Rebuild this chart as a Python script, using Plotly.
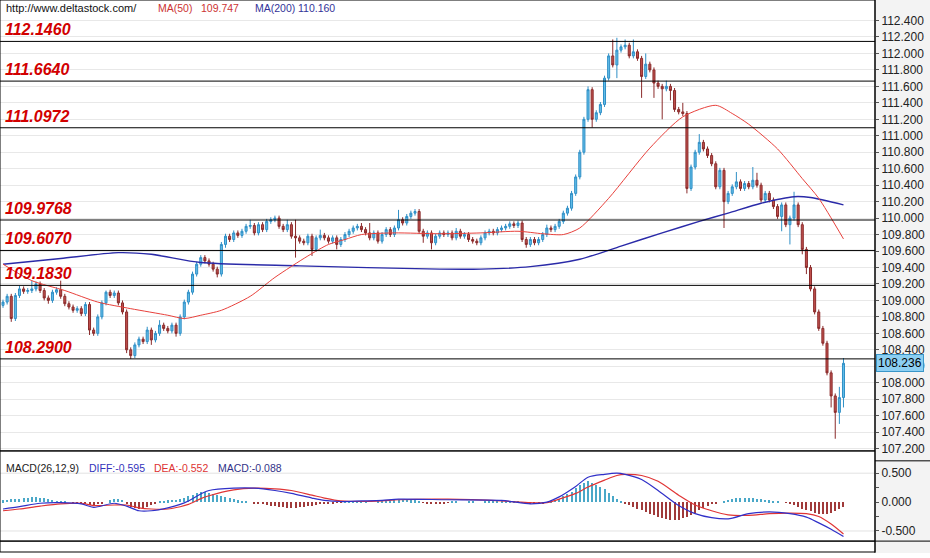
import plotly.graph_objects as go

# ---------------- data ----------------
opens = [108.94, 108.98, 109.05, 108.78, 109.06, 109.14, 109.11, 109.12, 109.14, 109.20,
         109.12, 109.03, 109.00, 109.10, 109.13, 109.05, 108.96, 108.92, 108.88, 108.90,
         108.84, 108.95, 108.64, 108.60, 108.80, 108.97, 109.10, 109.06, 109.09, 108.97,
         108.86, 108.40, 108.33, 108.46, 108.53, 108.50, 108.64, 108.52, 108.60, 108.70,
         108.66, 108.63, 108.70, 108.60, 108.80, 108.98, 109.10, 109.32, 109.44, 109.52,
         109.48, 109.44, 109.38, 109.32, 109.68, 109.78, 109.74, 109.82, 109.79, 109.84,
         109.90, 109.91, 109.82, 109.92, 109.86, 109.96, 109.98, 110.00, 109.90, 109.86,
         109.92, 109.78, 109.76, 109.72, 109.70, 109.78, 109.62, 109.76, 109.79, 109.76,
         109.72, 109.76, 109.68, 109.74, 109.80, 109.84, 109.88, 109.90, 109.86, 109.82,
         109.76, 109.82, 109.72, 109.80, 109.86, 109.80, 109.88, 109.98, 109.94, 110.02,
         110.06, 110.08, 109.84, 109.78, 109.82, 109.70, 109.78, 109.82, 109.80, 109.82,
         109.76, 109.84, 109.78, 109.80, 109.74, 109.72, 109.70, 109.76, 109.82, 109.84,
         109.82, 109.86, 109.88, 109.90, 109.93, 109.91, 109.94, 109.74, 109.68, 109.74,
         109.70, 109.74, 109.80, 109.88, 109.86, 109.90, 109.96, 110.06, 110.12, 110.30,
         110.50, 110.80, 111.20, 111.56, 111.20, 111.28, 111.38, 111.70, 111.97, 111.86,
         112.04, 112.08, 112.10, 111.97, 112.02, 111.94, 111.72, 111.87, 111.80, 111.64,
         111.60, 111.57, 111.60, 111.55, 111.32, 111.29, 111.27, 110.36, 110.62, 110.80,
         110.92, 110.84, 110.76, 110.66, 110.38, 110.58, 110.20, 110.30, 110.38, 110.44,
         110.36, 110.42, 110.38, 110.46, 110.40, 110.22, 110.30, 110.22, 110.14, 110.02,
         110.16, 109.92, 110.00, 110.16, 109.92, 109.62, 109.40, 109.14, 108.86, 108.66,
         108.48, 108.12, 107.84, 107.64, 107.82]

highs = [109.01, 109.08, 109.08, 109.09, 109.18, 109.17, 109.15, 109.24, 109.23, 109.23,
         109.15, 109.06, 109.13, 109.16, 109.24, 109.08, 108.99, 108.95, 108.93, 108.93,
         108.98, 108.98, 108.67, 108.83, 109.00, 109.12, 109.13, 109.12, 109.12, 109.00,
         108.89, 108.43, 108.49, 108.56, 108.56, 108.68, 108.67, 108.63, 108.76, 108.73,
         108.69, 108.73, 108.73, 108.83, 109.01, 109.13, 109.35, 109.47, 109.55, 109.55,
         109.51, 109.47, 109.41, 109.71, 109.81, 109.81, 109.85, 109.85, 109.87, 109.93,
         109.98, 109.94, 109.95, 109.95, 109.99, 110.01, 110.03, 110.03, 109.93, 109.98,
         109.95, 109.98, 109.79, 109.75, 109.81, 109.81, 109.79, 109.86, 109.82, 109.79,
         109.79, 109.79, 109.77, 109.83, 109.87, 109.91, 109.93, 109.94, 109.89, 109.94,
         109.85, 109.85, 109.83, 109.89, 109.89, 109.91, 110.10, 110.01, 110.05, 110.09,
         110.11, 110.11, 109.87, 109.85, 109.85, 109.81, 109.85, 109.85, 109.85, 109.85,
         109.88, 109.87, 109.83, 109.83, 109.77, 109.75, 109.79, 109.85, 109.87, 109.87,
         109.89, 109.91, 109.93, 109.96, 109.96, 109.97, 109.97, 109.77, 109.77, 109.77,
         109.77, 109.83, 109.92, 109.91, 109.93, 109.99, 110.09, 110.15, 110.33, 110.53,
         110.83, 111.23, 111.60, 111.59, 111.31, 111.41, 111.73, 112.00, 112.17, 112.19,
         112.11, 112.17, 112.13, 112.17, 112.05, 111.97, 112.00, 111.90, 111.83, 111.67,
         111.63, 111.67, 111.63, 111.58, 111.35, 111.40, 111.30, 110.65, 110.83, 111.02,
         110.95, 110.87, 110.79, 110.69, 110.61, 110.61, 110.33, 110.41, 110.56, 110.47,
         110.45, 110.45, 110.62, 110.55, 110.43, 110.33, 110.33, 110.25, 110.17, 110.19,
         110.19, 110.03, 110.32, 110.19, 109.95, 109.65, 109.43, 109.17, 108.89, 108.69,
         108.51, 108.15, 107.87, 107.95, 108.30]

lows = [108.91, 108.95, 108.74, 108.75, 109.03, 109.08, 109.08, 109.09, 109.11, 109.09,
        109.00, 108.96, 108.97, 109.07, 109.02, 108.93, 108.89, 108.85, 108.85, 108.81,
        108.81, 108.58, 108.57, 108.57, 108.77, 108.94, 109.03, 109.03, 108.94, 108.83,
        108.36, 108.29, 108.30, 108.43, 108.47, 108.47, 108.46, 108.49, 108.57, 108.63,
        108.60, 108.60, 108.56, 108.57, 108.77, 108.95, 109.07, 109.29, 109.41, 109.45,
        109.41, 109.35, 109.28, 109.29, 109.64, 109.71, 109.71, 109.76, 109.76, 109.81,
        109.87, 109.79, 109.79, 109.83, 109.83, 109.93, 109.95, 109.87, 109.83, 109.83,
        109.75, 109.52, 109.69, 109.67, 109.67, 109.54, 109.59, 109.73, 109.73, 109.69,
        109.69, 109.62, 109.65, 109.71, 109.77, 109.81, 109.85, 109.83, 109.79, 109.73,
        109.73, 109.69, 109.69, 109.77, 109.77, 109.77, 109.85, 109.91, 109.91, 109.99,
        110.03, 109.81, 109.70, 109.75, 109.62, 109.67, 109.75, 109.77, 109.77, 109.73,
        109.73, 109.75, 109.75, 109.71, 109.69, 109.67, 109.67, 109.73, 109.79, 109.79,
        109.79, 109.83, 109.85, 109.87, 109.88, 109.88, 109.71, 109.64, 109.65, 109.67,
        109.67, 109.71, 109.77, 109.83, 109.83, 109.87, 109.93, 110.03, 110.09, 110.27,
        110.47, 110.77, 111.17, 111.10, 111.17, 111.25, 111.35, 111.67, 111.83, 111.70,
        112.01, 112.05, 111.94, 111.94, 111.91, 111.46, 111.69, 111.77, 111.46, 111.57,
        111.20, 111.54, 111.43, 111.29, 111.26, 111.24, 110.30, 110.33, 110.59, 110.77,
        110.81, 110.73, 110.63, 110.35, 110.35, 109.88, 110.17, 110.27, 110.35, 110.33,
        110.33, 110.35, 110.35, 110.37, 110.19, 110.19, 110.19, 110.11, 109.99, 109.84,
        109.89, 109.68, 109.97, 109.89, 109.56, 109.32, 109.11, 108.83, 108.63, 108.45,
        108.09, 107.70, 107.32, 107.50, 107.70]

closes = [108.98, 109.05, 108.78, 109.06, 109.14, 109.11, 109.12, 109.14, 109.20, 109.12,
          109.03, 109.00, 109.10, 109.13, 109.05, 108.96, 108.92, 108.88, 108.90, 108.84,
          108.95, 108.64, 108.60, 108.80, 108.97, 109.10, 109.06, 109.09, 108.97, 108.86,
          108.40, 108.33, 108.46, 108.53, 108.50, 108.64, 108.52, 108.60, 108.70, 108.66,
          108.63, 108.70, 108.60, 108.80, 108.98, 109.10, 109.32, 109.44, 109.52, 109.48,
          109.44, 109.38, 109.32, 109.68, 109.78, 109.74, 109.82, 109.79, 109.84, 109.90,
          109.91, 109.82, 109.92, 109.86, 109.96, 109.98, 110.00, 109.90, 109.86, 109.92,
          109.78, 109.76, 109.72, 109.70, 109.78, 109.62, 109.76, 109.79, 109.76, 109.72,
          109.76, 109.68, 109.74, 109.80, 109.84, 109.88, 109.90, 109.86, 109.82, 109.76,
          109.82, 109.72, 109.80, 109.86, 109.80, 109.88, 109.98, 109.94, 110.02, 110.06,
          110.08, 109.84, 109.78, 109.82, 109.70, 109.78, 109.82, 109.80, 109.82, 109.76,
          109.84, 109.78, 109.80, 109.74, 109.72, 109.70, 109.76, 109.82, 109.84, 109.82,
          109.86, 109.88, 109.90, 109.93, 109.91, 109.94, 109.74, 109.68, 109.74, 109.70,
          109.74, 109.80, 109.88, 109.86, 109.90, 109.96, 110.06, 110.12, 110.30, 110.50,
          110.80, 111.20, 111.56, 111.20, 111.28, 111.38, 111.70, 111.97, 111.86, 112.04,
          112.08, 112.10, 111.97, 112.02, 111.94, 111.72, 111.87, 111.80, 111.64, 111.60,
          111.57, 111.60, 111.55, 111.32, 111.29, 111.27, 110.36, 110.62, 110.80, 110.92,
          110.84, 110.76, 110.66, 110.38, 110.58, 110.20, 110.30, 110.38, 110.44, 110.36,
          110.42, 110.38, 110.46, 110.40, 110.22, 110.30, 110.22, 110.14, 110.02, 110.16,
          109.92, 110.00, 110.16, 109.92, 109.62, 109.40, 109.14, 108.86, 108.66, 108.48,
          108.12, 107.84, 107.64, 107.82, 108.236]

bars = list(range(len(closes)))

ma50_idx = [0, 7, 15, 23, 31, 40, 44, 48, 53, 60, 66, 74, 79, 83, 87, 95, 106, 116,
            125, 131, 136, 140, 147, 157, 165, 173, 177, 181, 188, 194, 198, 204]
ma50_val = [109.44, 109.24, 109.12, 108.98, 108.90, 108.82, 108.78, 108.82, 108.88,
            109.05, 109.28, 109.54, 109.68, 109.74, 109.80, 109.82, 109.81, 109.82,
            109.84, 109.81, 109.80, 109.88, 110.24, 110.85, 111.23, 111.37, 111.27,
            111.14, 110.84, 110.48, 110.24, 109.747]

ma200_idx = [0, 14, 28, 36, 48, 72, 106, 116, 128, 140, 150, 160, 169, 176, 184,
             192, 196, 204]
ma200_val = [109.44, 109.51, 109.58, 109.56, 109.46, 109.42, 109.38, 109.38, 109.41,
             109.50, 109.66, 109.82, 109.96, 110.06, 110.18, 110.26, 110.25, 110.16]

# MACD lines (bar index -> value)
macd_idx = [0, 4, 9, 14, 19, 22, 27, 30, 33, 36, 40, 43, 45, 48, 50, 56, 61, 66, 70,
            75, 78, 82, 87, 92, 96, 108, 121, 128, 132, 135, 139, 142, 146, 149, 151,
            155, 159, 164, 168, 172, 176, 181, 186, 191, 195, 198, 201, 204]
diff_val = [-0.12, -0.08, -0.02, -0.01, -0.03, -0.09, -0.02, -0.07, -0.15, -0.15,
            -0.10, -0.04, 0.02, 0.14, 0.20, 0.24, 0.24, 0.20, 0.15, 0.07, 0.03, 0.01,
            0.02, 0.03, 0.05, 0.04, 0.03, -0.03, 0.00, 0.09, 0.27, 0.43, 0.48, 0.50,
            0.48, 0.39, 0.20, -0.06, -0.20, -0.27, -0.29, -0.20, -0.17, -0.20, -0.26,
            -0.36, -0.47, -0.595]
dea_val = [-0.15, -0.12, -0.07, -0.03, -0.02, -0.06, -0.05, -0.05, -0.10, -0.12,
           -0.12, -0.08, -0.04, 0.06, 0.11, 0.21, 0.24, 0.23, 0.20, 0.12, 0.07, 0.02,
           0.01, 0.02, 0.04, 0.05, 0.02, -0.01, -0.01, 0.05, 0.15, 0.26, 0.38, 0.46,
           0.48, 0.46, 0.36, 0.12, -0.05, -0.15, -0.22, -0.23, -0.20, -0.19, -0.20,
           -0.25, -0.38, -0.552]
# MACD histogram, one value per bar
macd_hist = [0.03, 0.04, 0.05, 0.06, 0.06, 0.07, 0.08, 0.09, 0.09, 0.08,
             0.07, 0.05, 0.04, 0.02, 0.01, 0.01, 0.00, -0.01, -0.01, -0.03,
             -0.04, -0.05, -0.05, -0.04, -0.02, 0.00, 0.03, 0.05, 0.06, 0.04,
             -0.04, -0.08, -0.10, -0.11, -0.10, -0.08, -0.05, -0.02, 0.01, 0.02,
             0.03, 0.04, 0.04, 0.05, 0.07, 0.10, 0.13, 0.16, 0.18, 0.17,
             0.16, 0.14, 0.12, 0.11, 0.09, 0.07, 0.05, 0.03, 0.02, 0.01,
             0.00, -0.02, -0.03, -0.04, -0.05, -0.06, -0.07, -0.08, -0.09, -0.10,
             -0.10, -0.10, -0.09, -0.08, -0.07, -0.06, -0.05, -0.04, -0.03, -0.02,
             -0.02, -0.01, -0.01, 0.01, 0.01, 0.02, 0.02, 0.01, 0.01, 0.00,
             0.00, 0.01, 0.01, 0.02, 0.02, 0.03, 0.03, 0.04, 0.04, 0.03,
             0.03, 0.02, -0.01, -0.02, -0.03, -0.03, -0.02, -0.02, -0.01, 0.01,
             0.01, 0.00, 0.00, 0.01, 0.01, 0.00, 0.00, 0.01, 0.01, 0.01,
             0.02, 0.02, 0.02, 0.02, 0.01, 0.01, -0.01, -0.03, -0.04, -0.04,
             -0.03, -0.02, 0.00, 0.02, 0.04, 0.06, 0.10, 0.14, 0.18, 0.24,
             0.30, 0.34, 0.36, 0.34, 0.30, 0.26, 0.22, 0.16, 0.10, 0.05,
             0.01, -0.02, -0.05, -0.08, -0.11, -0.14, -0.17, -0.20, -0.22, -0.25,
             -0.27, -0.29, -0.30, -0.31, -0.30, -0.28, -0.25, -0.22, -0.18, -0.14,
             -0.10, -0.07, -0.04, -0.02, 0.00, 0.02, 0.04, 0.06, 0.07, 0.08,
             0.08, 0.08, 0.07, 0.06, 0.05, 0.04, 0.03, 0.02, 0.01, 0.00,
             -0.01, -0.03, -0.05, -0.08, -0.11, -0.14, -0.16, -0.18, -0.20, -0.21,
             -0.20, -0.18, -0.15, -0.12, -0.088]

levels = [112.146, 111.664, 111.0972, 109.9768, 109.607, 109.183, 108.29]
level_labels = ["112.1460", "111.6640", "111.0972", "109.9768", "109.6070",
                "109.1830", "108.2900"]

price_tick_labels = ["107.200", "107.400", "107.600", "107.800", "108.000", "108.200",
                     "108.400", "108.600", "108.800", "109.000", "109.200", "109.400",
                     "109.600", "109.800", "110.000", "110.200", "110.400", "110.600",
                     "110.800", "111.000", "111.200", "111.400", "111.600", "111.800",
                     "112.000", "112.200", "112.400"]
macd_tick_labels = ["-0.500", "0.000", "0.500"]

last_price_label = "108.236"
header_url = "http://www.deltastock.com/"
ma50_text, ma50_value_text = "MA(50)", "109.747"
ma200_text, ma200_value_text = "MA(200)", "110.160"
macd_title = "MACD(26,12,9)"
diff_text, dea_text, macd_text = "DIFF:-0.595", "DEA:-0.552", "MACD:-0.088"

# ---------------- geometry helpers ----------------
W, H = 930, 558
PLOT_W = 875


def px_x(px):
    return px / PLOT_W


def px_y(py):
    return 1 - py / H


FONT = "Liberation Sans"
UP_FILL, UP_LINE = "#62bde8", "#2f8fc6"
DN_FILL, DN_LINE = "#c0504d", "#8a2b2b"

fig = go.Figure()

fig.add_trace(go.Candlestick(
    x=bars, open=opens, high=highs, low=lows, close=closes,
    xaxis="x", yaxis="y",
    increasing=dict(line=dict(color=UP_LINE, width=1), fillcolor=UP_FILL),
    decreasing=dict(line=dict(color=DN_LINE, width=1), fillcolor=DN_FILL),
    whiskerwidth=0, showlegend=False, hoverinfo="skip"))

fig.add_trace(go.Scatter(x=ma200_idx, y=ma200_val, mode="lines", xaxis="x", yaxis="y",
                         line=dict(color="#2a2aa8", width=1.4, shape="spline", smoothing=0.7),
                         showlegend=False, hoverinfo="skip"))
fig.add_trace(go.Scatter(x=ma50_idx, y=ma50_val, mode="lines", xaxis="x", yaxis="y",
                         line=dict(color="#e8413c", width=1, shape="spline", smoothing=0.7),
                         showlegend=False, hoverinfo="skip"))

fig.add_trace(go.Bar(x=bars, y=macd_hist, xaxis="x2", yaxis="y2", width=0.25,
                     marker=dict(color=["#4aa8c8" if v >= 0 else "#a03a3a" for v in macd_hist],
                                 line=dict(width=0)),
                     showlegend=False, hoverinfo="skip"))
fig.add_trace(go.Scatter(x=macd_idx, y=dea_val, mode="lines", xaxis="x2", yaxis="y2",
                         line=dict(color="#e03535", width=1.2, shape="spline", smoothing=0.8),
                         showlegend=False, hoverinfo="skip"))
fig.add_trace(go.Scatter(x=macd_idx, y=diff_val, mode="lines", xaxis="x2", yaxis="y2",
                         line=dict(color="#3030c8", width=1.2, shape="spline", smoothing=0.8),
                         showlegend=False, hoverinfo="skip"))

x_range = [-0.73, 211.65]
main_dom = [px_y(455), 1]
macd_dom = [px_y(546), px_y(456)]

shapes = []
shapes.append(dict(type="rect", xref="paper", yref="paper", x0=1, x1=W / PLOT_W,
                   y0=0, y1=1, fillcolor="#f3f3f3", line=dict(width=0), layer="below"))
for lv in levels:
    shapes.append(dict(type="line", xref="paper", yref="y", x0=0, x1=1, y0=lv, y1=lv,
                       line=dict(color="#000000", width=1)))
for g in (-0.5, 0.5):
    shapes.append(dict(type="line", xref="paper", yref="y2", x0=0, x1=1, y0=g, y1=g,
                       line=dict(color="#e2e2e2", width=1), layer="below"))
shapes.append(dict(type="rect", xref="paper", yref="paper", x0=0, x1=1,
                   y0=px_y(455), y1=1, line=dict(color="#000", width=1)))
shapes.append(dict(type="rect", xref="paper", yref="paper", x0=0, x1=1,
                   y0=px_y(546), y1=px_y(455), line=dict(color="#000", width=1)))
shapes.append(dict(type="rect", xref="paper", yref="paper", x0=0, x1=1,
                   y0=px_y(557), y1=px_y(546), line=dict(color="#000", width=1)))
shapes.append(dict(type="line", xref="paper", yref="paper", x0=1, x1=1, y0=0, y1=1,
                   line=dict(color="#000", width=1)))
shapes.append(dict(type="line", xref="paper", yref="paper", x0=1, x1=W / PLOT_W,
                   y0=px_y(465), y1=px_y(465), line=dict(color="#000", width=1)))
shapes.append(dict(type="line", xref="paper", yref="paper", x0=1, x1=W / PLOT_W,
                   y0=px_y(546), y1=px_y(546), line=dict(color="#000", width=1)))

annotations = []
for lv, lab in zip(levels, level_labels):
    annotations.append(dict(xref="paper", yref="y", x=px_x(3), y=lv, xanchor="left",
                            yanchor="bottom", showarrow=False, yshift=1,
                            text="<b><i>%s</i></b>" % lab,
                            font=dict(family=FONT, size=16, color="#d20000")))


def header(text, px, py, color, size=11):
    annotations.append(dict(xref="paper", yref="paper", x=px_x(px), y=px_y(py),
                            xanchor="left", yanchor="middle", showarrow=False,
                            text=text, font=dict(family=FONT, size=size, color=color)))


header(header_url, 4, 8, "#111111")
header(ma50_text, 156, 8, "#cc3333", 10.5)
header(ma50_value_text, 199, 8, "#cc3333", 10.5)
header(ma200_text, 253, 8, "#333399", 10.5)
header(ma200_value_text, 296, 8, "#333399", 10.5)
header(macd_title, 4, 472, "#222222", 10.5)
header(diff_text, 87, 472, "#3333bb", 10.5)
header(dea_text, 152, 472, "#dd3333", 10.5)
header(macd_text, 216, 472, "#333388", 10.5)

annotations.append(dict(xref="paper", yref="y", x=1, y=closes[-1], xanchor="left",
                        yanchor="middle", xshift=1, showarrow=False,
                        text=last_price_label, bgcolor="#8ccff2", bordercolor="#3a96c8",
                        borderwidth=1, borderpad=1,
                        font=dict(family=FONT, size=12, color="#000000")))

fig.update_layout(
    width=W, height=H,
    margin=dict(l=0, r=W - PLOT_W, t=0, b=0),
    paper_bgcolor="#ffffff", plot_bgcolor="#ffffff",
    showlegend=False, bargap=0,
    xaxis=dict(domain=[0, 1], range=x_range, anchor="y", showticklabels=False,
               showgrid=False, zeroline=False, ticks="", rangeslider=dict(visible=False),
               fixedrange=True),
    xaxis2=dict(domain=[0, 1], range=x_range, anchor="y2", matches="x",
                showticklabels=False, showgrid=False, zeroline=False, ticks="",
                fixedrange=True),
    yaxis=dict(domain=main_dom, range=[107.172, 112.649], side="right", anchor="x",
               tickmode="array", tickvals=[float(t) for t in price_tick_labels],
               ticktext=price_tick_labels, ticks="outside", ticklen=3,
               tickcolor="#555555", tickfont=dict(family=FONT, size=12, color="#222222"),
               showgrid=True, gridcolor="#e8e8e8", gridwidth=1, zeroline=False,
               showline=False, fixedrange=True),
    yaxis2=dict(domain=macd_dom, range=[-0.675, 0.868], side="right", anchor="x2",
                tickmode="array", tickvals=[float(t) for t in macd_tick_labels],
                ticktext=macd_tick_labels, ticks="outside", ticklen=3,
                tickcolor="#555555", tickfont=dict(family=FONT, size=12, color="#222222"),
                minor=dict(tickvals=[-0.25, 0.25], ticks="outside", ticklen=3,
                           tickcolor="#555555", showgrid=False),
                showgrid=False, zeroline=False, showline=False, fixedrange=True),
    shapes=shapes, annotations=annotations,
)

page_fix = (
    "var de=document.documentElement, b=document.body;"
    "de.style.margin='0'; de.style.padding='0'; de.style.overflow='hidden';"
    "de.style.height='558px';"
    "b.style.margin='0'; b.style.padding='0'; b.style.overflow='hidden';"
    "b.style.height='558px';"
    "var d=document.getElementById('{plot_id}');"
    "d.style.display='block';"
    "if (d.parentElement) {d.parentElement.style.height='558px';"
    "d.parentElement.style.overflow='hidden';}"
)

fig.write_html("out.html", config={"displayModeBar": False}, post_script=page_fix)
